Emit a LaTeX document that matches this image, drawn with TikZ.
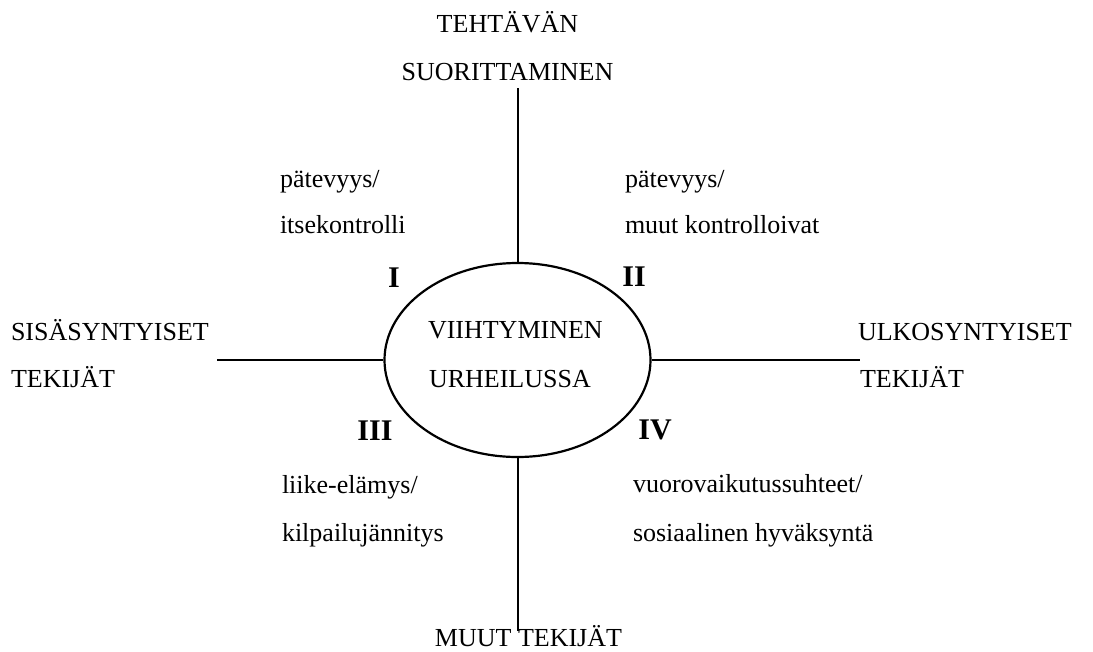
\documentclass[tikz,border=0pt]{standalone}
\usepackage{fontspec}
\setmainfont{Liberation Serif}
\usetikzlibrary{shapes.geometric}
\tikzset{
  lbl/.style={inner sep=0pt, outer sep=0pt, font=\fontsize{26}{30}\selectfont},
  roman/.style={inner sep=0pt, outer sep=0pt, font=\fontsize{30}{34}\selectfont\bfseries, anchor=base},
  vline/.style={line width=2pt},
  hline/.style={line width=2.6pt},
  centre/.style={draw, ellipse, line width=2.2pt, inner sep=0pt, minimum width=266pt, minimum height=194pt}
}
\begin{document}
\begin{tikzpicture}[x=1pt,y=-1pt]
\useasboundingbox (0,0) rectangle (1093,651);
\node[centre] (c) at (517.5,360) {};
\node[lbl, anchor=base west] (v1) at (428,338) {VIIHTYMINEN};
\node[lbl, anchor=base west] (v2) at (429,387) {URHEILUSSA};

\coordinate (top) at (517.5,88);
\coordinate (bot) at (517.5,631);
\coordinate (lft) at (217,360);
\coordinate (rgt) at (860,360);
\draw[vline] (top) -- (c.north);
\draw[vline] (c.south) -- (bot);
\draw[hline] (lft) -- (c.west);
\draw[hline] (c.east) -- (rgt);

\node[lbl, anchor=base] (t1) at (507.5,32) {TEHTÄVÄN};
\node[lbl, anchor=base] (t2) at (507.5,80) {SUORITTAMINEN};
\node[lbl, anchor=base] (b1) at (528.5,646) {MUUT TEKIJÄT};
\node[lbl, anchor=base west] (l1) at (11,340) {SISÄSYNTYISET};
\node[lbl, anchor=base west] (l2) at (11,387) {TEKIJÄT};
\node[lbl, anchor=base west] (r1) at (858,340) {ULKOSYNTYISET};
\node[lbl, anchor=base west] (r2) at (860,387) {TEKIJÄT};

\node[lbl, anchor=base west] (q1a) at (280,187) {pätevyys/};
\node[lbl, anchor=base west] (q1b) at (280,233) {itsekontrolli};
\node[lbl, anchor=base west] (q2a) at (625,187) {pätevyys/};
\node[lbl, anchor=base west] (q2b) at (625,233) {muut kontrolloivat};
\node[lbl, anchor=base west] (q3a) at (282,493) {liike-elämys/};
\node[lbl, anchor=base west] (q3b) at (282,541) {kilpailujännitys};
\node[lbl, anchor=base west] (q4a) at (633,492) {vuorovaikutussuhteet/};
\node[lbl, anchor=base west] (q4b) at (633,541) {sosiaalinen hyväksyntä};

\node[roman] (n1) at (394,287) {I};
\node[roman] (n2) at (634,286) {II};
\node[roman] (n3) at (375,440) {III};
\node[roman] (n4) at (655,439) {IV};
\end{tikzpicture}
\end{document}
